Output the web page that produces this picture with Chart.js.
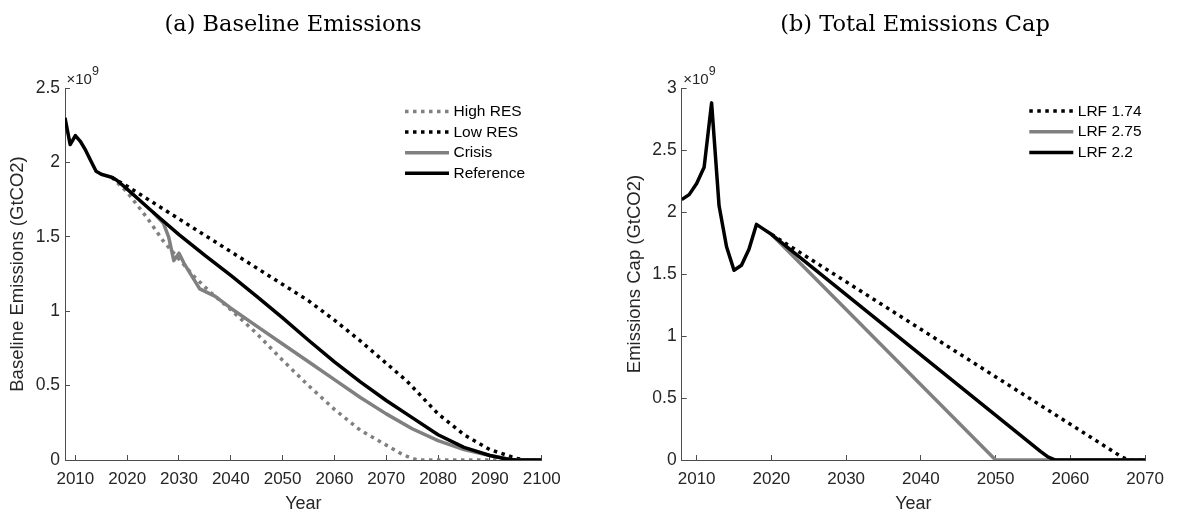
<!DOCTYPE html>
<html>
<head>
<meta charset="utf-8">
<title>Baseline emissions and emissions cap</title>
<script src="https://cdn.jsdelivr.net/npm/chart.js@4.4.1/dist/chart.umd.min.js"></script>
<style>
  html, body { margin: 0; padding: 0; background: #fff; }
  #wrap { position: relative; width: 1178px; height: 515px; overflow: hidden; }
  canvas { position: absolute; top: 0; }
  #baseline { left: 0; }
  #cap { left: 589px; }
</style>
</head>
<body>
<div id="wrap">
  <canvas id="baseline" width="589" height="515"></canvas>
  <canvas id="cap" width="589" height="515"></canvas>
</div>
<script>
// values are in units of 10^9 (the axes show x10^9)

// (a) baseline emissions
const refYears = [2008, 2009, 2010, 2011, 2012, 2013, 2014, 2015, 2016, 2017, 2018, 2020, 2025, 2030, 2035, 2040, 2045, 2050, 2055, 2060, 2065, 2070, 2075, 2080, 2085, 2090, 2093, 2095, 2100];
const refVals  = [2.30, 2.12, 2.18, 2.14, 2.08, 2.01, 1.94, 1.92, 1.91, 1.90, 1.88, 1.82, 1.665, 1.515, 1.375, 1.24, 1.10, 0.955, 0.805, 0.66, 0.525, 0.40, 0.285, 0.17, 0.085, 0.03, 0.008, 0, 0];

const lowYears = [2017, 2020, 2025, 2030, 2035, 2040, 2045, 2050, 2055, 2060, 2065, 2070, 2074, 2077, 2080, 2085, 2090, 2095, 2097, 2100];
const lowVals  = [1.90, 1.84, 1.73, 1.62, 1.51, 1.40, 1.29, 1.18, 1.07, 0.94, 0.80, 0.65, 0.53, 0.42, 0.31, 0.17, 0.07, 0.012, 0, 0];

const highYears = [2017, 2020, 2024, 2027, 2030, 2033, 2036, 2040, 2045, 2050, 2055, 2060, 2065, 2070, 2073, 2075, 2076, 2100];
const highVals  = [1.90, 1.80, 1.62, 1.47, 1.35, 1.23, 1.13, 1.01, 0.85, 0.67, 0.50, 0.34, 0.20, 0.10, 0.04, 0.01, 0, 0];

const crisisYears = [2025, 2027, 2028, 2029, 2030, 2031, 2034, 2037, 2040, 2045, 2050, 2055, 2060, 2065, 2070, 2075, 2080, 2085, 2090, 2094, 2100];
const crisisVals  = [1.665, 1.59, 1.50, 1.34, 1.39, 1.32, 1.15, 1.10, 1.02, 0.90, 0.78, 0.66, 0.54, 0.42, 0.31, 0.21, 0.13, 0.07, 0.03, 0.003, 0];

const baseTicksX = [2010, 2020, 2030, 2040, 2050, 2060, 2070, 2080, 2090, 2100];
const baseTicksY = [0, 0.5, 1, 1.5, 2, 2.5];

// (b) total emissions cap
const lrf22Years = [2008, 2009, 2010, 2011, 2012, 2013, 2014, 2015, 2016, 2017, 2018, 2019, 2020, 2056, 2057, 2058, 2070];
const lrf22Vals  = [2.10, 2.14, 2.23, 2.36, 2.88, 2.05, 1.72, 1.53, 1.57, 1.70, 1.90, 1.86, 1.82, 0.07, 0.025, 0, 0];

const lrf275Years = [2020, 2050, 2070];
const lrf275Vals  = [1.82, 0, 0];

const lrf174Years = [2020, 2067, 2068, 2070];
const lrf174Vals  = [1.82, 0.02, 0, 0];

const capTicksX = [2010, 2020, 2030, 2040, 2050, 2060, 2070];
const capTicksY = [0, 0.5, 1, 1.5, 2, 2.5, 3];

const GREY = '#808080';
const INK = '#262626';
const AXIS = '#4d4d4d';
const DOTS = [3.5, 4.5];

function pts(xs, ys) {
  return xs.map((x, i) => ({ x: x, y: ys[i] }));
}

function series(label, xs, ys, color, dash, order) {
  return {
    label: label,
    data: pts(xs, ys),
    borderColor: color,
    backgroundColor: color,
    borderWidth: 3.5,
    borderDash: dash,
    borderCapStyle: 'butt',
    borderJoinStyle: 'round',
    pointRadius: 0,
    tension: 0,
    fill: false,
    order: order
  };
}

// title, x10^9 label and the legend box inside the axes
const decor = {
  id: 'decor',
  afterDraw(chart, args, o) {
    const ctx = chart.ctx;
    const area = chart.chartArea;
    ctx.save();

    ctx.fillStyle = '#000';
    ctx.font = '22.5px "DejaVu Serif"';
    ctx.textAlign = 'center';
    ctx.textBaseline = 'alphabetic';
    ctx.fillText(o.title, o.titleX, 31);

    ctx.fillStyle = INK;
    ctx.textAlign = 'left';
    ctx.font = '15px "Liberation Sans"';
    ctx.fillText('\u00d710', area.left + 1.5, area.top - 4.5);
    const w = ctx.measureText('\u00d710').width;
    ctx.font = '12.5px "Liberation Sans"';
    ctx.fillText('9', area.left + 1.5 + w, area.top - 13);

    ctx.font = '15.5px "Liberation Sans"';
    ctx.textBaseline = 'middle';
    chart.data.datasets.forEach((ds, i) => {
      const y = o.legendTop + i * o.legendGap;
      ctx.beginPath();
      ctx.strokeStyle = ds.borderColor;
      ctx.lineWidth = ds.borderWidth;
      ctx.lineCap = 'butt';
      ctx.setLineDash(ds.borderDash || []);
      ctx.moveTo(o.legendX0, y);
      ctx.lineTo(o.legendX1, y);
      ctx.stroke();
      ctx.setLineDash([]);
      ctx.fillStyle = '#000';
      ctx.fillText(ds.label, o.legendX1 + 4.5, y + 0.5);
    });
    ctx.restore();
  }
};

function makeChart(id, datasets, xMin, xMax, xTicks, yMax, yTicks, yTitle, yWidth, pad, deco) {
  return new Chart(document.getElementById(id), {
    type: 'line',
    data: { datasets: datasets },
    plugins: [decor],
    options: {
      responsive: false,
      animation: false,
      devicePixelRatio: 1,
      layout: { padding: pad },
      plugins: {
        legend: { display: false },
        tooltip: { enabled: false },
        decor: deco
      },
      scales: {
        x: {
          type: 'linear',
          min: xMin,
          max: xMax,
          afterBuildTicks: s => { s.ticks = xTicks.map(v => ({ value: v })); },
          afterFit: s => { s.height = 55; },
          ticks: {
            color: INK,
            font: { family: 'Liberation Sans', size: 17 },
            padding: 14,
            maxRotation: 0,
            autoSkip: false,
            callback: v => String(v)
          },
          grid: { drawOnChartArea: false, drawTicks: true, tickLength: -5, color: AXIS, lineWidth: 1 },
          border: { display: true, color: AXIS, width: 1 },
          title: { display: true, text: 'Year', color: INK, font: { family: 'Liberation Sans', size: 18 }, padding: 0 }
        },
        y: {
          type: 'linear',
          min: 0,
          max: yMax,
          afterBuildTicks: s => { s.ticks = yTicks.map(v => ({ value: v })); },
          afterFit: s => { s.width = yWidth; },
          ticks: {
            color: INK,
            font: { family: 'Liberation Sans', size: 17.5 },
            padding: 10,
            callback: v => String(v)
          },
          grid: { drawOnChartArea: false, drawTicks: true, tickLength: -5, color: AXIS, lineWidth: 1 },
          border: { display: true, color: AXIS, width: 1 },
          title: { display: true, text: yTitle, color: INK, font: { family: 'Liberation Sans', size: 18.5 }, padding: 0 }
        }
      }
    }
  });
}

makeChart('baseline', [
  series('High RES', highYears, highVals, GREY, DOTS, 4),
  series('Low RES', lowYears, lowVals, '#000', DOTS, 3),
  series('Crisis', crisisYears, crisisVals, GREY, [], 2),
  series('Reference', refYears, refVals, '#000', [], 1)
], 2008, 2100, baseTicksX, 2.5, baseTicksY, 'Baseline Emissions (GtCO2)', 58,
  { top: 88, left: 7, right: 47.3, bottom: 0 },
  { title: '(a) Baseline Emissions', titleX: 293, legendX0: 405, legendX1: 449, legendTop: 111.5, legendGap: 20.6 });

makeChart('cap', [
  series('LRF 1.74', lrf174Years, lrf174Vals, '#000', DOTS, 3),
  series('LRF 2.75', lrf275Years, lrf275Vals, GREY, [], 2),
  series('LRF 2.2', lrf22Years, lrf22Vals, '#000', [], 1)
], 2008, 2070, capTicksX, 3, capTicksY, 'Emissions Cap (GtCO2)', 57.7,
  { top: 88, left: 35, right: 20.3, bottom: 0 },
  { title: '(b) Total Emissions Cap', titleX: 326, legendX0: 440.3, legendX1: 484.3, legendTop: 111, legendGap: 20.7 });
</script>
</body>
</html>
